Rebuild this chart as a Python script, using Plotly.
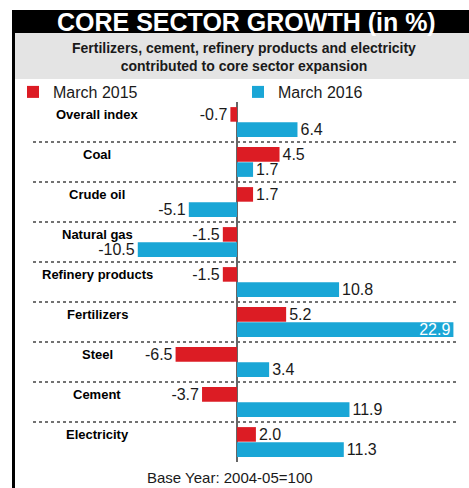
import plotly.graph_objects as go

categories = ["Overall index", "Coal", "Crude oil", "Natural gas", "Refinery products",
              "Fertilizers", "Steel", "Cement", "Electricity"]
march_2015 = [-0.7, 4.5, 1.7, -1.5, -1.5, 5.2, -6.5, -3.7, 2.0]
march_2016 = [6.4, 1.7, -5.1, -10.5, 10.8, 22.9, 3.4, 11.9, 11.3]
series_names = ["March 2015", "March 2016"]

W, H = 469, 488
RED = "#dc1c24"
BLUE = "#1aa6d6"
BARGAP = 0.24
GROUP_PX = 40.0

def labels(vals):
    return [f"{v:.1f}" for v in vals]

def positions(vals, maxv):
    return ["inside" if v == maxv else "outside" for v in vals]

mx = max(march_2015 + march_2016)

fig = go.Figure()
for name, vals, col in [(series_names[0], march_2015, RED), (series_names[1], march_2016, BLUE)]:
    fig.add_trace(go.Bar(
        y=categories, x=vals, name=name, orientation="h",
        marker=dict(color=col, line=dict(width=0)),
        text=labels(vals), textposition=positions(vals, mx),
        insidetextanchor="end",
        insidetextfont=dict(family="Liberation Sans, Arial, sans-serif", size=16, color="white"),
        outsidetextfont=dict(family="Liberation Sans, Arial, sans-serif", size=16, color="#1a1a1a"),
        constraintext="none", cliponaxis=False, hoverinfo="skip",
    ))

# plot area geometry
top_px, bot_px = 102, 462
zero_px, px_per_unit = 237, 9.45
fig.update_layout(
    width=W, height=H, margin=dict(l=0, r=0, t=0, b=0, autoexpand=False),
    paper_bgcolor="white", plot_bgcolor="white",
    barmode="group", bargap=BARGAP, bargroupgap=0.04,
    showlegend=True,
    legend=dict(orientation="h", x=13 / W, y=1 - 92 / H, xanchor="left", yanchor="middle",
                entrywidth=180, entrywidthmode="pixels", traceorder="normal",
                font=dict(family="Liberation Sans, Arial, sans-serif", size=16, color="#1a1a1a"),
                bgcolor="rgba(0,0,0,0)", itemwidth=30),
    xaxis=dict(domain=[0, 1], range=[-zero_px / px_per_unit, (W - zero_px) / px_per_unit],
               showticklabels=False, showgrid=False, ticks="",
               zeroline=True, zerolinecolor="#666666", zerolinewidth=1.5),
    yaxis=dict(domain=[1 - bot_px / H, 1 - top_px / H], autorange="reversed",
               showticklabels=False, showgrid=False, ticks="", zeroline=False),
)

shapes = []
# left border
shapes.append(dict(type="rect", xref="paper", yref="paper", x0=12 / W, x1=15 / W,
                   y0=0, y1=1 - 10 / H, fillcolor="black", line=dict(width=0), layer="above"))
# title bar
shapes.append(dict(type="rect", xref="paper", yref="paper", x0=12 / W, x1=1,
                   y0=1 - 33 / H, y1=1 - 10 / H, fillcolor="black", line=dict(width=0)))
# subtitle band
shapes.append(dict(type="rect", xref="paper", yref="paper", x0=15 / W, x1=1,
                   y0=1 - 79 / H, y1=1 - 33 / H, fillcolor="#e4e4e4", line=dict(width=0)))
# dotted separators between groups
for i in range(len(categories) - 1):
    shapes.append(dict(type="line", xref="paper", yref="y", x0=33 / W, x1=458 / W,
                       y0=i + 0.5, y1=i + 0.5, line=dict(color="#444444", width=1.3, dash="dot"),
                       layer="below"))
fig.update_layout(shapes=shapes)

ann = []
ann.append(dict(text="<b>CORE SECTOR GROWTH (in %)</b>", xref="paper", yref="paper",
                x=246 / W, y=1 - 21.5 / H, showarrow=False, xanchor="center", yanchor="middle",
                font=dict(family="Liberation Sans, Arial, sans-serif", size=25, color="white")))
ann.append(dict(text="<b>Fertilizers, cement, refinery products and electricity<br>contributed to core sector expansion</b>",
                xref="paper", yref="paper", x=244 / W, y=1 - 57 / H, showarrow=False,
                xanchor="center", yanchor="middle",
                font=dict(family="Liberation Sans, Arial, sans-serif", size=14, color="#1a1a1a")))
ann.append(dict(text="Base Year: 2004-05=100", xref="paper", yref="paper", x=230 / W, y=1 - 477 / H,
                showarrow=False, xanchor="center", yanchor="middle",
                font=dict(family="Liberation Sans, Arial, sans-serif", size=15, color="#1a1a1a")))
shift = (1 - BARGAP) * GROUP_PX / 4
for c in categories:
    ann.append(dict(text=f"<b>{c}</b>", xref="paper", yref="y", x=97 / W, y=c, yshift=shift,
                    showarrow=False, xanchor="center", yanchor="middle",
                    font=dict(family="Liberation Sans, Arial, sans-serif",
                              size=13, color="black")))
fig.update_layout(annotations=ann)

fig.write_html("out.html", config={"displayModeBar": False},
               post_script="document.body.style.margin='0';")
